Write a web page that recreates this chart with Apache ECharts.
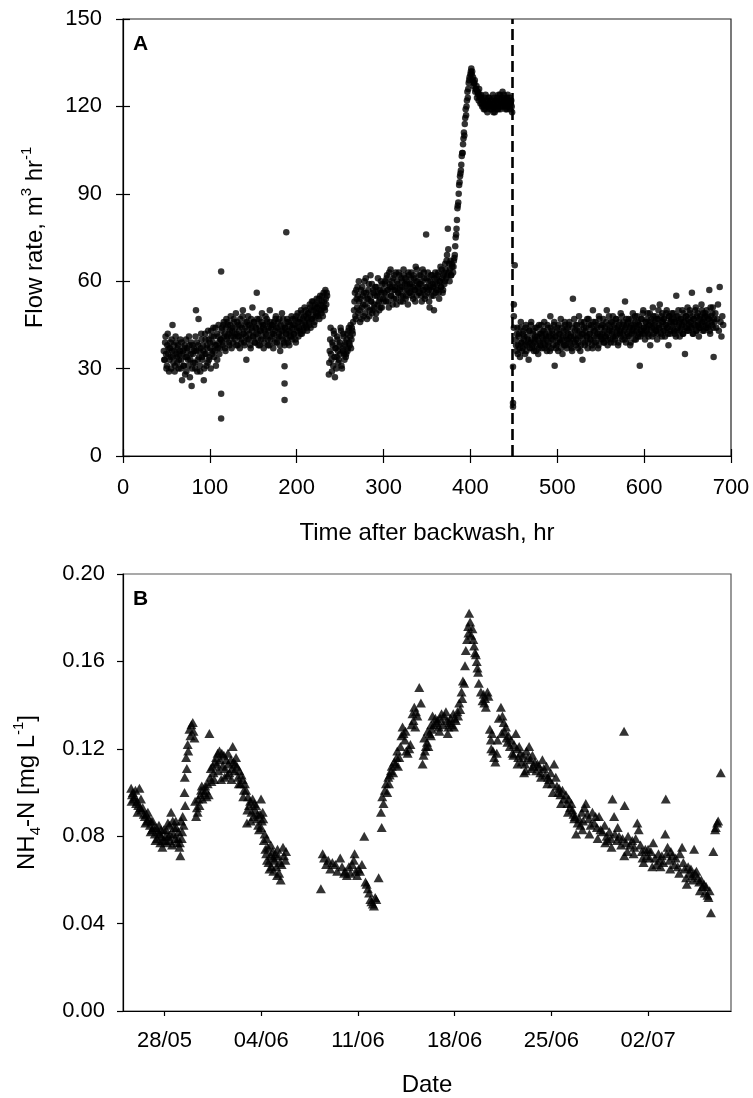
<!DOCTYPE html>
<html><head><meta charset="utf-8">
<script src="https://cdn.jsdelivr.net/npm/echarts@6/dist/echarts.min.js"></script>
<style>html,body{margin:0;padding:0;background:#fff}#c{width:753px;height:1098px}</style>
</head><body><div id="c"></div>
<script>
// ---------- Panel A: flow rate (m3/hr), readings on the hour and on the half hour ----------
const flowA_t0 = 47;
const flowA = [36,33,41,30,38,35,29,37,34,40,45,32,36,31,39,34,37,30,35,40,33,26,36,31,38,34,29,37,33,41,27,35,24,38,32,36,30,50,39,33,47,36,29,42,34,38,26,35,40,31,37,43,33,39,30,41,36,44,34,38,31,42,37,45,35,40];
const flowA2 = [33,39,35,31,42,37,33,39,30,36,34,38,29,41,35,32,38,33,36,30,39,35,31,37,28,40,34,36,31,38,33,39,30,35,37,32,41,36,29,38,34,31,37,40,33,36,30,42,35,38,32,40,34,37,43,35,39,41,36,44,38,33,41,39,37];
const flowB_t0 = 113;
const flowB = [40,44,38,46,42,36,47,41,45,39,43,48,37,44,41,46,40,49,42,38,45,41,47,39,44,50,42,38,46,33,43,48,40,45,37,44,51,41,46,39,44,56,42,38,47,43,40,49,45,37,43,48,41,46,38,44,50,40,45,42,37,46,43,48,39,44,41,47,36,43,49,40,45,38,44,42,47,39,46,41,43,48,40,45,42,47,39,44,49,41,46,43,50,42,47,44,51,45,48,43,49,46,52,44,50,47,53,45,51,48,54,49,52,47,55,50,53,48,56,51,57,52,55];
const flowB2 = [43,39,45,41,37,44,40,46,42,38,45,41,43,39,47,42,44,38,46,41,43,37,45,40,48,42,39,44,41,46,40,45,42,38,47,43,41,46,39,44,42,47,40,45,38,43,46,41,44,39,45,42,47,40,43,38,46,44,41,45,42,39,47,44,40,46,42,38,45,41,43,47,39,44,42,40,46,43,38,45,41,44,47,42,45,40,48,43,46,44,47,42,49,45,43,48,46,50,44,47,49,45,51,47,53,48,50,46,52,49,51,48,54,50,52,49,55,51,53,50,54,56];
const flowC_t0 = 237;
const flowC = [28,36,44,33,39,31,42,27,37,34,40,32,38,35,43,30,36,41,33,39,35,42,37,44,38,45,40,43,46];
const flowC2 = [32,40,35,29,38,43,34,37,30,41,36,33,39,44,31,37,42,35,38,34,40,36,43,39,41,37,44,42];
const flowD_t0 = 266;
const flowD = [50,56,47,54,58,49,53,46,57,51,55,48,60,52,56,47,54,59,50,62,53,49,57,51,55,47,58,52,56,50,54,60,51,57,53];
const flowD2 = [53,48,57,51,55,60,50,54,47,58,52,56,49,61,54,51,57,48,55,53,59,50,56,52,58,49,55,61,53,57,51,56,59,54];
const flowE_t0 = 301;
const flowE = [56,60,53,62,57,51,59,64,55,58,61,54,57,63,52,59,56,62,58,55,60,53,64,57,61,55,59,52,62,58,56,63,59,54,61,57,65,55,60,58,62,56,59,53,64,57,61,55,76,58,63,57,51,60,55,62,58,50,59,56,61,57,63,54,60,58,64,56,62,59,66,61,69,78,63,60,67,62,65];
const flowE2 = [59,55,61,57,53,63,58,55,60,52,57,62,58,54,60,56,63,57,53,61,58,55,62,59,54,60,57,63,56,59,61,55,58,62,57,53,60,64,58,56,59,62,55,60,57,63,54,58,61,56,60,53,58,62,57,59,55,61,63,57,59,62,56,60,65,58,61,57,63,60,64,67,62,71,66,64,62,66];
const flowF_t0 = 380;
const flowF = [63,67,69,75,78,85,87,93,96,98,103,104,109,110,116,117,122,123,128,130];
const flowF2 = [65,68,72,76,81,86,90,94,97,100,104,107,111,114,119,120,125,126,129];
const flowG_t0 = 400;
const flowG = [131,133,132,130,128,129,126,127,125,124,126,123,124,121,122,120,123,119,121,122,120,123,121,119,122,120,124,121,118,122,120,123,119,121,124,120,122,125,121,123,120,122,119,124,121,123,120,122,118];
const flowG2 = [132,131,129,127,128,125,126,123,125,122,124,121,123,120,122,119,121,124,120,118,121,123,120,122,119,121,118,123,120,122,119,121,124,122,119,121,123,120,124,122,119,121,123,120,122,119,121,120];
const flowH_t0 = 452;
const flowH = [40,36,44,38,42,34,46,39,37,43,41,35,45,38,40,33,43,39,46,37,42,36,40,44,38,41,35,45,39,42,37,43,40,46,38,41,36,44,39,42,48,37,43,40,45,31,41,38,44,36,42,39,47,40,35,43,38,45,41,37,44,40,46,38,42,36,54,41,39,45,40,43,37,48,41,38,45,33,42,46,39,44,41,37,47,42,40,45,38,50,43,39,46,41,44,37,48,42,40,45,42,47,39,44,41,50,38,45,43,40,46,42,48,39,44,41,47,43,38,45,42,49,44,40,46,43,53,39,45,41,47,43,38,45,42,49,44,40,46,43,48,41,45,31,43,47,42,50,44,40,46,43,49,41,45,38,47,44,51,42,45,48,43,40,47,44,52,42,46,49,43,47,41,45,50,44,38,48,42,46,49,44,47,42,46,55,43,48,45,41,47,44,50,42,46,35,48,44,51,43,46,49,44,56,42,47,45,50,43,48,45,41,47,44,52,46,49,43,48,45,50,44,47,57,42,48,45,51,34,46,49,44,47,52,43,58,46,41,48,45];
const flowH2 = [38,42,35,41,37,44,39,36,42,40,38,44,36,41,39,43,37,45,40,38,43,39,41,36,44,40,37,42,38,45,41,39,43,37,42,40,45,38,41,36,44,40,42,38,46,41,37,43,39,45,40,42,37,44,41,39,46,38,43,40,42,45,39,41,37,44,40,47,43,38,45,41,39,43,36,46,42,40,44,38,43,41,47,39,45,42,40,44,37,46,41,43,39,45,42,38,47,41,44,40,45,39,43,41,46,42,40,48,44,39,43,46,41,45,40,47,42,44,39,46,43,41,48,42,45,40,44,47,42,46,41,44,39,47,43,45,42,48,40,44,46,42,45,41,47,43,49,44,42,46,44,47,42,45,49,43,46,41,48,44,46,43,47,42,50,45,44,48,41,46,47,43,45,49,44,42,48,46,43,47,45,49,43,46,41,48,44,50,46,43,47,45,42,49,46,44,48,43,47,45,50,46,44,48,42,47,45,51,43,49,46,44,48,45,50,43,47,46,49,44,48,45,47,43,51,46,49,44,47];
const flowOutliers = [[113,63.3],[113,21.4],[113,12.9],[186,30.8],[186,24.9],[186,19.2],[188,76.8],[449,16.9],[449,18.2],[449,30.6],[450,52],[450,48],[450,44],[451,65.5]];
const backwashHr = 448;

// ---------- Panel B: NH4-N (mg/L), x = day counted from 1 May ----------
const nh4Seg1 = [[25.59,0.102],[25.65,0.099],[25.71,0.100],[25.78,0.097],[25.85,0.098],[25.95,0.095],[26.02,0.096],[26.1,0.094],[26.19,0.102],[26.25,0.093],[26.33,0.092],[26.43,0.093],[26.5,0.090],[26.58,0.089],[26.68,0.090],[26.75,0.087],[26.85,0.088],[26.95,0.085],[27.04,0.087],[27.1,0.083],[27.2,0.084],[27.3,0.081],[27.4,0.084],[27.47,0.079],[27.55,0.082],[27.64,0.081],[27.7,0.077],[27.78,0.080],[27.85,0.075],[27.95,0.083],[28.02,0.078],[28.12,0.083],[28.2,0.077],[28.28,0.080],[28.35,0.085],[28.42,0.081],[28.48,0.091],[28.55,0.076],[28.6,0.087],[28.7,0.084],[28.78,0.079],[28.85,0.084],[28.92,0.077],[29.0,0.082],[29.08,0.075],[29.15,0.071],[29.21,0.087],[29.25,0.079],[29.32,0.089],[29.38,0.085],[29.45,0.100],[29.47,0.107],[29.5,0.094],[29.57,0.116],[29.62,0.111],[29.68,0.122],[29.72,0.119],[29.81,0.129],[29.88,0.126],[29.95,0.131],[30.05,0.132],[30.1,0.128],[30.17,0.125],[30.29,0.089],[30.35,0.093],[30.45,0.097],[30.53,0.094],[30.6,0.099],[30.65,0.101],[30.75,0.097],[30.89,0.100],[30.95,0.103],[31.05,0.098],[31.13,0.104],[31.25,0.127],[31.3,0.107],[31.4,0.105],[31.49,0.112],[31.55,0.109],[31.65,0.114],[31.74,0.116],[31.8,0.113],[31.9,0.110],[31.98,0.119],[32.03,0.115],[32.1,0.106],[32.2,0.112],[32.3,0.117],[32.38,0.111],[32.46,0.115],[32.55,0.108],[32.62,0.113],[32.7,0.109],[32.8,0.115],[32.88,0.111],[32.94,0.121],[33.0,0.114],[33.08,0.110],[33.18,0.116],[33.25,0.112],[33.32,0.107],[33.42,0.110],[33.5,0.104],[33.58,0.108],[33.66,0.106],[33.75,0.101],[33.82,0.104],[33.91,0.101],[33.97,0.086],[34.05,0.098],[34.12,0.094],[34.2,0.096],[34.3,0.091],[34.38,0.097],[34.45,0.089],[34.55,0.092],[34.63,0.094],[34.7,0.088],[34.78,0.085],[34.84,0.083],[34.92,0.090],[34.99,0.097],[35.05,0.087],[35.11,0.091],[35.19,0.078],[35.25,0.081],[35.3,0.074],[35.36,0.072],[35.42,0.069],[35.48,0.075],[35.53,0.068],[35.6,0.065],[35.68,0.071],[35.75,0.066],[35.82,0.073],[35.88,0.064],[35.95,0.069],[36.02,0.072],[36.1,0.066],[36.18,0.074],[36.23,0.071],[36.3,0.063],[36.41,0.060],[36.48,0.067],[36.58,0.075],[36.65,0.071],[36.75,0.069],[36.8,0.073]];
const nh4Seg1b = [[25.62,0.096],[25.9,0.101],[26.05,0.091],[26.3,0.097],[26.62,0.086],[26.8,0.091],[27.0,0.082],[27.15,0.087],[27.35,0.078],[27.6,0.085],[27.75,0.083],[27.9,0.078],[28.08,0.080],[28.25,0.086],[28.4,0.078],[28.65,0.081],[28.82,0.087],[28.98,0.079],[29.12,0.077],[29.28,0.082],[30.22,0.096],[30.4,0.091],[30.7,0.103],[31.0,0.101],[31.2,0.099],[31.35,0.111],[31.6,0.106],[31.85,0.118],[32.15,0.118],[32.35,0.107],[32.6,0.118],[32.85,0.106],[33.12,0.113],[33.38,0.104],[33.7,0.098],[34.0,0.092],[34.25,0.087],[34.5,0.095],[34.75,0.090],[35.0,0.084],[35.15,0.088],[35.4,0.079],[35.7,0.076],[35.9,0.070],[36.15,0.062],[36.35,0.068]];
const nh4Seg2 = [[39.32,0.056],[39.45,0.072],[39.55,0.070],[39.7,0.067],[39.85,0.069],[40.0,0.065],[40.15,0.068],[40.37,0.067],[40.5,0.064],[40.72,0.070],[40.85,0.066],[41.0,0.063],[41.07,0.064],[41.2,0.062],[41.35,0.066],[41.45,0.063],[41.59,0.067],[41.7,0.069],[41.76,0.072],[41.85,0.064],[41.94,0.062],[42.05,0.065],[42.15,0.064],[42.29,0.067],[42.46,0.080],[42.55,0.059],[42.63,0.058],[42.72,0.056],[42.81,0.054],[42.9,0.051],[42.98,0.050],[43.08,0.049],[43.16,0.048],[43.25,0.052],[43.33,0.051],[43.5,0.061]];
const nh4Seg3 = [[43.67,0.091],[43.72,0.084],[43.76,0.098],[43.85,0.095],[43.95,0.101],[44.03,0.104],[44.12,0.100],[44.2,0.107],[44.3,0.108],[44.39,0.110],[44.45,0.112],[44.55,0.109],[44.63,0.114],[44.72,0.113],[44.8,0.116],[44.9,0.112],[44.99,0.116],[45.08,0.121],[45.15,0.126],[45.23,0.130],[45.3,0.127],[45.4,0.124],[45.5,0.119],[45.6,0.118],[45.72,0.120],[45.8,0.122],[45.88,0.131],[45.95,0.136],[46.02,0.133],[46.08,0.139],[46.2,0.137],[46.3,0.135],[46.44,0.148],[46.56,0.141],[46.68,0.113],[46.75,0.117],[46.85,0.119],[46.92,0.121],[47.0,0.123],[47.1,0.121],[47.2,0.127],[47.28,0.126],[47.35,0.129],[47.4,0.135],[47.5,0.131],[47.6,0.134],[47.7,0.132],[47.76,0.133],[47.85,0.130],[47.95,0.134],[48.05,0.136],[48.15,0.131],[48.25,0.135],[48.37,0.137],[48.45,0.133],[48.55,0.130],[48.61,0.132],[48.7,0.134],[48.8,0.131],[48.9,0.136],[49.0,0.134],[49.09,0.133],[49.2,0.137],[49.33,0.141],[49.4,0.138],[49.5,0.146],[49.6,0.151],[49.69,0.150],[49.75,0.158],[49.81,0.165],[49.9,0.170],[49.98,0.176],[50.05,0.182],[50.12,0.178],[50.2,0.172],[50.29,0.175],[50.35,0.170],[50.41,0.167],[50.48,0.164],[50.54,0.163],[50.6,0.160],[50.65,0.157],[50.75,0.150],[50.9,0.146],[51.02,0.142],[51.1,0.145],[51.2,0.143],[51.26,0.139],[51.38,0.146],[51.45,0.144],[51.55,0.129],[51.62,0.124],[51.7,0.127],[51.78,0.119],[51.86,0.116],[51.95,0.114],[52.05,0.118],[52.2,0.134],[52.35,0.139],[52.46,0.135],[52.55,0.132],[52.62,0.128],[52.71,0.130],[52.82,0.123],[52.9,0.126],[53.0,0.121],[53.08,0.124],[53.18,0.118],[53.3,0.122],[53.43,0.127],[53.5,0.120],[53.6,0.116],[53.67,0.121],[53.75,0.118],[53.85,0.114],[53.95,0.117],[54.03,0.109],[54.1,0.113],[54.2,0.119],[54.3,0.116],[54.39,0.121],[54.5,0.115],[54.63,0.117],[54.7,0.112],[54.8,0.114],[54.9,0.110],[55.0,0.113],[55.11,0.112],[55.2,0.109],[55.35,0.115],[55.45,0.111],[55.55,0.108],[55.65,0.112],[55.75,0.107],[55.84,0.106],[55.95,0.109],[56.05,0.104],[56.2,0.113],[56.32,0.107],[56.4,0.103],[56.5,0.100],[56.56,0.102],[56.65,0.099],[56.8,0.101],[56.9,0.097],[57.05,0.099],[57.15,0.095],[57.25,0.097],[57.35,0.093],[57.45,0.095],[57.52,0.092],[57.6,0.090],[57.7,0.089],[57.79,0.081],[57.9,0.086],[58.01,0.088],[58.1,0.085],[58.2,0.091],[58.3,0.087],[58.4,0.093],[58.49,0.095],[58.6,0.090],[58.7,0.088],[58.84,0.085],[58.97,0.091],[59.1,0.086],[59.2,0.089],[59.3,0.084],[59.45,0.089],[59.55,0.083],[59.7,0.082],[59.85,0.085],[60.0,0.080],[60.06,0.078],[60.2,0.082],[60.3,0.079],[60.42,0.097],[60.54,0.089],[60.6,0.081],[60.75,0.078],[60.9,0.080],[61.05,0.076],[61.15,0.079],[61.26,0.128],[61.28,0.071],[61.3,0.094],[61.4,0.077],[61.55,0.080],[61.7,0.076],[61.85,0.078],[62.0,0.075],[62.1,0.079],[62.22,0.086],[62.32,0.083],[62.45,0.076],[62.55,0.073],[62.67,0.068],[62.8,0.074],[62.9,0.071],[63.0,0.074],[63.1,0.070],[63.2,0.073],[63.37,0.077],[63.5,0.070],[63.6,0.067],[63.75,0.072],[63.85,0.069],[64.0,0.071],[64.1,0.068],[64.24,0.081],[64.28,0.097],[64.35,0.072],[64.41,0.075],[64.55,0.069],[64.65,0.073],[64.76,0.071],[64.9,0.067],[65.0,0.070],[65.15,0.066],[65.3,0.072],[65.46,0.075],[65.55,0.068],[65.65,0.065],[65.8,0.058],[65.9,0.066],[66.0,0.063],[66.1,0.065],[66.2,0.062],[66.33,0.074],[66.4,0.063],[66.5,0.064],[66.6,0.061],[66.7,0.059],[66.85,0.060],[66.95,0.057],[67.05,0.058],[67.2,0.057],[67.3,0.053],[67.37,0.052],[67.45,0.055],[67.55,0.045],[67.72,0.073],[67.85,0.083],[67.9,0.084],[68.0,0.086],[68.07,0.087],[68.26,0.109]];
const nh4Seg3b = [[44.25,0.104],[44.85,0.119],[45.45,0.128],[46.15,0.130],[46.8,0.125],[47.05,0.128],[47.3,0.131],[47.9,0.128],[48.5,0.127],[48.95,0.130],[49.25,0.135],[49.55,0.143],[50.0,0.173],[50.7,0.155],[51.15,0.141],[51.65,0.120],[52.1,0.124],[52.4,0.127],[52.75,0.125],[53.25,0.117],[53.55,0.113],[54.15,0.110],[54.55,0.111],[55.25,0.107],[55.7,0.104],[56.1,0.100],[56.7,0.095],[57.2,0.091],[57.65,0.088],[58.25,0.083],[58.75,0.081],[59.35,0.079],[59.9,0.077],[60.35,0.075],[60.8,0.084],[61.5,0.073],[61.95,0.072],[62.6,0.070],[63.3,0.066],[63.9,0.066],[64.6,0.065],[65.25,0.063],[65.75,0.061],[66.25,0.060],[66.75,0.055],[67.1,0.054]];
const dateTickDays = [28,35,42,49,56,63];
const dateTickLabels = ['28/05','04/06','11/06','18/06','25/06','02/07'];

// ---------- build ----------
function seg(t0, vals){ return vals.map((v,i)=>[t0+i, v]); }
const flowData = [].concat(
  seg(flowA_t0,flowA),seg(flowA_t0+0.5,flowA2),
  seg(flowB_t0,flowB),seg(flowB_t0+0.5,flowB2),
  seg(flowC_t0,flowC),seg(flowC_t0+0.5,flowC2),
  seg(flowD_t0,flowD),seg(flowD_t0+0.5,flowD2),
  seg(flowE_t0,flowE),seg(flowE_t0+0.5,flowE2),
  seg(flowF_t0,flowF),seg(flowF_t0+0.5,flowF2),
  seg(flowG_t0,flowG),seg(flowG_t0+0.5,flowG2),
  seg(flowH_t0,flowH),seg(flowH_t0+0.5,flowH2),
  flowOutliers);
const nh4Data = [].concat(nh4Seg1,nh4Seg1b,nh4Seg2,nh4Seg3,nh4Seg3b);

const FF = '"Liberation Sans", Arial, sans-serif';
const TXT = {fontSize:22, color:'#000', fontFamily:FF};
const TTL = {fontSize:24, color:'#000', fontFamily:FF};
const chart = echarts.init(document.getElementById('c'), null, {renderer:'canvas'});
const noSplit = {show:false};
chart.setOption({
  animation:false,
  backgroundColor:'#fff',
  grid:[
    {left:123, top:19, width:608, height:437, show:true, borderColor:'#222', borderWidth:1.2, backgroundColor:'transparent'},
    {left:123, top:574, width:608, height:437, show:true, borderColor:'#555', borderWidth:1.2, backgroundColor:'transparent'}
  ],
  xAxis:[
    {gridIndex:0, type:'value', min:0, max:700, interval:100, splitLine:noSplit,
     axisLine:{lineStyle:{color:'#000',width:1.2}}, axisTick:{length:7, lineStyle:{color:'#000',width:1.2}},
     axisLabel:Object.assign({margin:21}, TXT),
     name:'Time after backwash, hr', nameLocation:'middle', nameGap:65, nameTextStyle:TTL},
    {gridIndex:0, type:'value', min:0, max:700, interval:100, position:'bottom', splitLine:noSplit,
     axisLine:{show:false}, axisTick:{inside:true, length:7, lineStyle:{color:'#000',width:1.2}}, axisLabel:{show:false}},
    {gridIndex:1, type:'value', min:25, max:69, splitLine:noSplit,
     axisLine:{lineStyle:{color:'#000',width:1.2}},
     axisTick:{length:5, customValues:dateTickDays, lineStyle:{color:'#000',width:1.2}},
     axisLabel:Object.assign({margin:19, customValues:dateTickDays, formatter:(v)=>dateTickLabels[dateTickDays.indexOf(Math.round(v))]}, TXT),
     name:'Date', nameLocation:'middle', nameGap:62, nameTextStyle:TTL}
  ],
  yAxis:[
    {gridIndex:0, type:'value', min:0, max:150, interval:30, splitLine:noSplit,
     axisLine:{show:true, lineStyle:{color:'#000',width:1.2}}, axisTick:{show:true, length:7, lineStyle:{color:'#000',width:1.2}},
     axisLabel:Object.assign({margin:21}, TXT),
     name:'Flow rate, m{sup|3} hr{sup|-1}', nameLocation:'middle', nameRotate:90, nameGap:72,
     nameTextStyle:Object.assign({lineHeight:32, rich:{sup:{fontSize:15, lineHeight:15, verticalAlign:'top', color:'#000', fontFamily:FF}}}, TTL)},
    {gridIndex:0, type:'value', min:0, max:150, interval:30, position:'left', splitLine:noSplit,
     axisLine:{show:false}, axisTick:{show:true, inside:true, length:7, lineStyle:{color:'#000',width:1.2}}, axisLabel:{show:false}},
    {gridIndex:1, type:'value', min:0, max:0.2, interval:0.04, splitLine:noSplit,
     axisLine:{show:true, lineStyle:{color:'#000',width:1.2}}, axisTick:{show:true, length:6, lineStyle:{color:'#000',width:1.2}},
     axisLabel:Object.assign({margin:18, formatter:(v)=>v.toFixed(2)}, TXT),
     name:'NH{sub|4}-N [mg L{sup|-1}]', nameLocation:'middle', nameRotate:90, nameGap:80,
     nameTextStyle:Object.assign({lineHeight:32, rich:{
       sup:{fontSize:15, lineHeight:15, verticalAlign:'top', color:'#000', fontFamily:FF},
       sub:{fontSize:15, lineHeight:15, verticalAlign:'bottom', color:'#000', fontFamily:FF}}}, TTL)}
  ],
  graphic:[
    {type:'text', left:133, top:34, style:{text:'A', font:'bold 21px '+FF, fill:'#000'}},
    {type:'text', left:133, top:589, style:{text:'B', font:'bold 21px '+FF, fill:'#000'}}
  ],
  series:[
    {type:'scatter', xAxisIndex:0, yAxisIndex:0, data:flowData, symbol:'circle', symbolSize:6.5,
     itemStyle:{color:'#000'}, silent:true, large:false,
     markLine:{silent:true, symbol:['none','none'], label:{show:false},
       lineStyle:{color:'#000', width:2.6, type:[11,5]}, data:[{xAxis:backwashHr}]}},
    {type:'scatter', xAxisIndex:2, yAxisIndex:2, data:nh4Data, symbol:'triangle', symbolSize:[10,9],
     itemStyle:{color:'#000'}, silent:true}
  ]
});
</script></body></html>
